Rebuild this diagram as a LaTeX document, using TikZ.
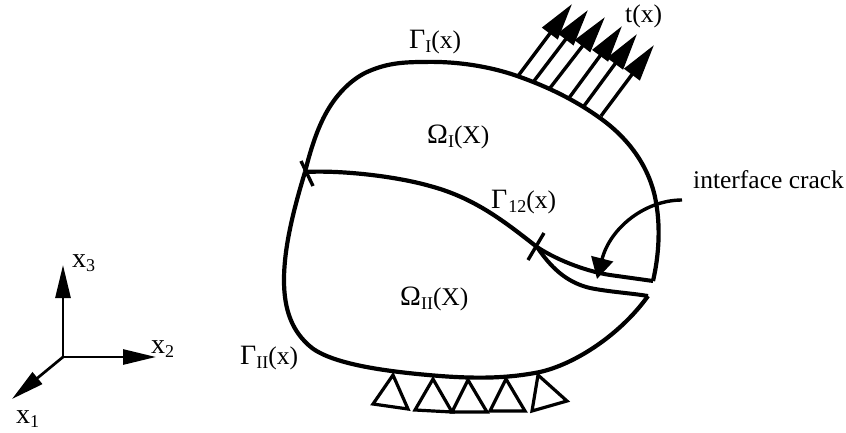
\documentclass[tikz,border=0pt]{standalone}
\usepackage{fontspec}
\setmainfont{Liberation Serif}
\usetikzlibrary{arrows.meta}
\newcommand{\sbs}[1]{\raisebox{-4pt}{\fontsize{18}{18}\selectfont #1}}
\newcommand{\grk}[1]{{\fontsize{28}{28}\selectfont #1}}
\tikzset{
  body/.style={line width=4.2pt},
  crackline/.style={line width=4pt,line join=miter},
  tick/.style={line width=3.4pt},
  load/.style={line width=3.4pt,-{Triangle[length=37pt,width=19pt]}},
  axis/.style={line width=2.7pt,-{Triangle[length=33pt,width=15pt]}},
  pointer/.style={line width=3.4pt,-{Triangle[length=21pt,width=22pt]}},
  support/.style={line width=3.2pt,line join=miter,fill=white},
  txt/.style={inner sep=0pt,anchor=base west,font=\fontsize{25.5}{28}\selectfont},
  axtxt/.style={inner sep=0pt,anchor=base west,font=\fontsize{28}{30}\selectfont},
}
\begin{document}
\begin{tikzpicture}[x=1pt,y=-1pt]
\useasboundingbox (0,0) rectangle (846,432);
% supports
\draw[support] (393,375) -- (373,404) -- (408,409) -- cycle;
\draw[support] (433,379) -- (415,410) -- (452,412) -- cycle;
\draw[support] (468,380) -- (452,412) -- (487,412) -- cycle;
\draw[support] (506,379) -- (490,411) -- (525,411) -- cycle;
\draw[support] (538,375) -- (532,411) -- (567,401) -- cycle;
% body
\coordinate (A) at (305,172);
\coordinate (C) at (537,247);
\coordinate (U) at (653,281);
\coordinate (L) at (648,296);
\draw[body] (U) .. controls (659,255) and (661,225) .. (655,197)
  .. controls (648,165) and (628,138) .. (600,118)
  .. controls (575,100) and (548,87) .. (520,77)
  .. controls (490,66) and (455,61) .. (423,62)
  .. controls (400,62) and (385,64) .. (367,72)
  .. controls (350,80) and (335,96) .. (325,115)
  .. controls (316,132) and (310,152) .. (A);
\draw[body] (A) .. controls (295,205) and (284,245) .. (284,280)
  .. controls (284,310) and (292,332) .. (312,348)
  .. controls (335,365) and (390,372) .. (440,376)
  .. controls (480,379) and (510,378) .. (540,372)
  .. controls (575,364) and (620,335) .. (L);
\draw[body] (A) .. controls (340,170) and (395,176) .. (430,186)
  .. controls (475,198) and (505,222) .. (C);
\draw[crackline] (C) .. controls (560,262) and (590,272) .. (610,275) -- (U);
\draw[crackline] (C) .. controls (550,266) and (565,282) .. (590,288) .. controls (610,292) and (630,293) .. (L);
% ticks
\coordinate (t1a) at (301,161); \coordinate (t1b) at (313,186);
\coordinate (t2a) at (544,233); \coordinate (t2b) at (528,260);
\draw[tick] (t1a) -- (t1b);
\draw[tick] (t2a) -- (t2b);
% load arrows
\foreach \n/\xa/\ya/\xb/\yb in {1/518/76/572/4,2/534/81/588/10,3/550/88/605/17,4/569/98/622/26,5/584/106/637/34,6/601/116/654/45}{
  \coordinate (la\n) at (\xa,\ya);
  \coordinate (lb\n) at (\xb,\yb);
  \draw[load] (la\n) -- (lb\n);
}
% pointer
\coordinate (p0) at (682,200);
\coordinate (p1) at (597,279);
\draw[pointer] (p0) .. controls (645,200) and (610,228) .. (p1);
% axes
\coordinate (O) at (63,357);
\coordinate (X3) at (63,265);
\coordinate (X2) at (156,357);
\coordinate (X1) at (12,399);
\draw[axis] (O) -- (X3);
\draw[axis] (O) -- (X2);
\draw[axis] (O) -- (X1);
% labels
\node[txt] (gi) at (409,48) {\grk{Γ}\sbs{I}(x)};
\node[txt] (ti) at (625,22) {t(x)};
\node[txt] (oi) at (427,143) {\grk{Ω}\sbs{I}(X)};
\node[txt] (g12) at (491,208) {\grk{Γ}\sbs{\kern1pt 12}(x)};
\node[txt] (ic) at (693,188) {interface crack};
\node[txt] (oii) at (400,305) {\grk{Ω}\sbs{II}(X)};
\node[txt] (gii) at (240,364) {\grk{Γ}\sbs{II}(x)};
\node[axtxt] (x3) at (72,267) {x\sbs{3}};
\node[axtxt] (x2) at (151,353) {x\sbs{2}};
\node[axtxt] (x1) at (16,423) {x\sbs{1}};
\end{tikzpicture}
\end{document}
